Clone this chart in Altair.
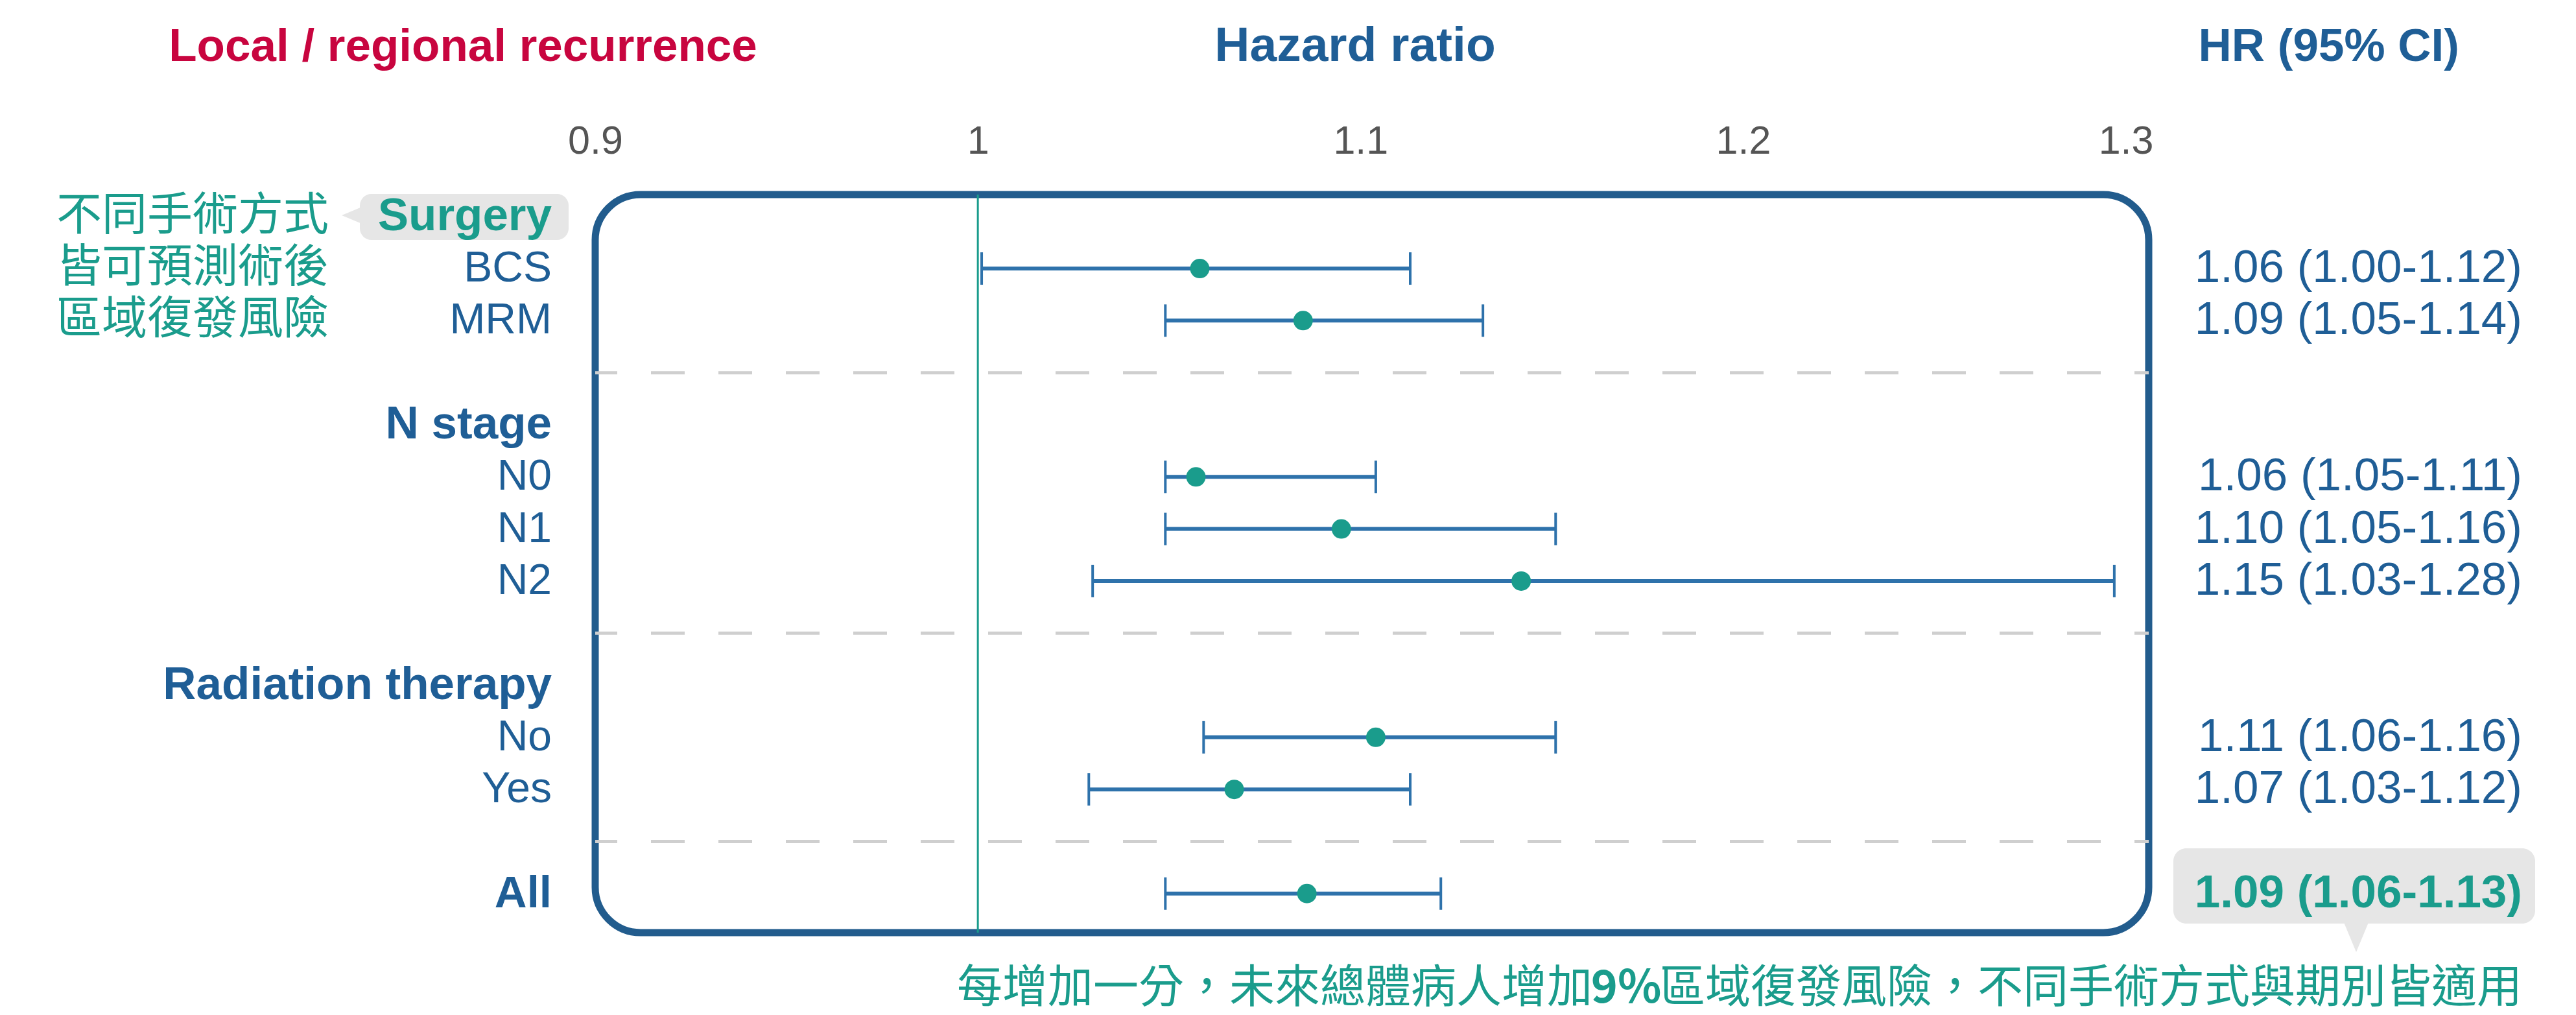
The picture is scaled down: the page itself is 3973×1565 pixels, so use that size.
import altair as alt
import pandas as pd

# ---------------- data ----------------
sub_labels = ["BCS", "MRM", "N0", "N1", "N2", "No", "Yes", "All"]
sub_rows = [1, 2, 5, 6, 7, 10, 11, 13]
hr_point = [1.058, 1.085, 1.057, 1.095, 1.142, 1.104, 1.067, 1.086]
ci_low = [1.001, 1.049, 1.049, 1.049, 1.030, 1.059, 1.029, 1.049]
ci_high = [1.113, 1.132, 1.104, 1.151, 1.297, 1.151, 1.113, 1.121]
hr_text = ["1.06 (1.00-1.12)", "1.09 (1.05-1.14)", "1.06 (1.05-1.11)",
           "1.10 (1.05-1.16)", "1.15 (1.03-1.28)", "1.11 (1.06-1.16)",
           "1.07 (1.03-1.12)", "1.09 (1.06-1.13)"]
group_headers = ["Surgery", "N stage", "Radiation therapy"]
header_rows = [0, 4, 9]
separator_rows = [3, 8, 12]
tick_values = [0.9, 1.0, 1.1, 1.2, 1.3]
note_lines = ["不同手術方式", "皆可預測術後", "區域復發風險"]
note_rows = [0, 1, 2]
footer_parts = ["每增加一分，未來總體病人增加", "9%", "區域復發風險，不同手術方式與期別皆適用"]
titles = ["Local / regional recurrence", "Hazard ratio", "HR (95% CI)"]

# ---------------- styles ----------------
BLUE = "#1f5e96"
BOX = "#225c8d"
BAR = "#2e72ab"
TEAL = "#1a9c8c"
RED = "#c8053f"
GREY = "#e6e6e6"
LATIN = "Liberation Sans"
CJK = "Noto Sans CJK TC"

df = pd.DataFrame({"label": sub_labels, "row": sub_rows, "hr": hr_point,
                   "lo": ci_low, "hi": ci_high, "txt": hr_text})
sub_df = df.iloc[:-1]
all_df = df.iloc[-1:]
hdr_df = pd.DataFrame({"label": group_headers, "row": header_rows})
sep_df = pd.DataFrame({"row": separator_rows})
note_df = pd.DataFrame({"txt": note_lines, "row": note_rows})
one = pd.DataFrame({"v": [1.0]})

xscale = alt.Scale(domain=[0.9, 1.306], nice=False, zero=False)
xaxis = alt.Axis(orient="top", values=tick_values, format="~g", domain=False,
                 ticks=False, tickSize=0, grid=False, labelFontSize=61,
                 labelFont=LATIN, labelColor="#555555", labelPadding=64,
                 labelBaseline="alphabetic", labelFlush=False,
                 labelOverlap=False, title=None)
yscale = alt.Scale(domain=[-0.42, 13.75], reverse=True, nice=False, zero=False)


def Y(field="row"):
    return alt.Y(f"{field}:Q", scale=yscale, axis=None)


def X(field):
    return alt.X(f"{field}:Q", scale=xscale, axis=xaxis)


seps = alt.Chart(sep_df).mark_rule(color="#cfcfcf", strokeWidth=5,
                                   strokeDash=[52, 52], strokeDashOffset=30).encode(y=Y())
ref = alt.Chart(one).mark_rule(color=TEAL, strokeWidth=3).encode(x=X("v"))
bars = alt.Chart(df).mark_rule(color=BAR, strokeWidth=6).encode(
    x=X("lo"), x2="hi:Q", y=Y())
cap_lo = alt.Chart(df).mark_tick(orient="vertical", color=BAR, size=50,
                                 thickness=4, opacity=1).encode(x=X("lo"), y=Y())
cap_hi = alt.Chart(df).mark_tick(orient="vertical", color=BAR, size=50,
                                 thickness=4, opacity=1).encode(x=X("hi"), y=Y())
points = alt.Chart(df).mark_circle(color=TEAL, size=900, opacity=1).encode(
    x=X("hr"), y=Y())

# decorations (speech bubbles)
dummy = pd.DataFrame({"d": [0]})
bubble1 = alt.Chart(dummy).mark_rect(color=GREY, cornerRadius=18).encode(
    x=alt.value(-363), x2=alt.value(-41), y=alt.value(-1), y2=alt.value(70))
arrow1 = alt.Chart(dummy).mark_point(
    shape="M 0 0 L 2.4 -1 L 2.4 1 Z", size=1296, filled=True, color=GREY,
    opacity=1).encode(x=alt.value(-391), y=alt.value(32))
bubble2 = alt.Chart(dummy).mark_rect(color=GREY, cornerRadius=20).encode(
    x=alt.value(2434), x2=alt.value(2992), y=alt.value(1008), y2=alt.value(1124))
arrow2 = alt.Chart(dummy).mark_point(
    shape="M -1 -2.4 L 1 -2.4 L 0 0 Z", size=3136, filled=True, color=GREY,
    opacity=1).encode(x=alt.value(2716), y=alt.value(1168))

# text
sub_lbl = alt.Chart(sub_df).mark_text(align="right", baseline="middle", font=LATIN,
                                      fontSize=66, color=BLUE).encode(
    x=alt.value(-67), y=Y(), text="label:N")
all_lbl = alt.Chart(all_df).mark_text(align="right", baseline="middle", font=LATIN,
                                      fontSize=69, fontWeight="bold", color=BLUE).encode(
    x=alt.value(-67), y=Y(), text="label:N")
hdr_lbl = alt.Chart(hdr_df).mark_text(align="right", baseline="middle", font=LATIN,
                                      fontSize=71, fontWeight="bold").encode(
    x=alt.value(-67), y=Y(), text="label:N",
    color=alt.condition("datum.label == 'Surgery'", alt.value(TEAL), alt.value(BLUE)))
hr_sub = alt.Chart(sub_df).mark_text(align="right", baseline="middle", font=LATIN,
                                     fontSize=71, color=BLUE).encode(
    x=alt.value(2972), y=Y(), text="txt:N")
hr_all = alt.Chart(all_df).mark_text(align="right", baseline="middle", font=LATIN,
                                     fontSize=71, fontWeight="bold", color=TEAL).encode(
    x=alt.value(2972), y=Y(), text="txt:N")
notes = alt.Chart(note_df).mark_text(align="right", baseline="middle", font=CJK,
                                     fontSize=70, color=TEAL).encode(
    x=alt.value(-411), y=Y(), text="txt:N")

title_df = pd.DataFrame({"t": titles})
t1 = alt.Chart(title_df.iloc[[0]]).mark_text(align="center", baseline="alphabetic", font=LATIN,
                                             fontSize=71, fontWeight="bold", color=RED).encode(
    x=alt.value(-204), y=alt.value(-206), text="t:N")
t2 = alt.Chart(title_df.iloc[[1]]).mark_text(align="center", baseline="alphabetic", font=LATIN,
                                             fontSize=75, fontWeight="bold", color=BLUE).encode(
    x=alt.value(1172), y=alt.value(-206), text="t:N")
t3 = alt.Chart(title_df.iloc[[2]]).mark_text(align="right", baseline="alphabetic", font=LATIN,
                                             fontSize=71, fontWeight="bold", color=BLUE).encode(
    x=alt.value(2875), y=alt.value(-206), text="t:N")

foot_df = pd.DataFrame({"t": footer_parts})
FS = 70
GAP = 104
FY = 1225
N3 = 19  # full-width characters in the last footer part
f3 = alt.Chart(foot_df.iloc[[2]]).mark_text(align="right", baseline="middle", font=CJK,
                                            fontSize=FS, color=TEAL).encode(
    x=alt.value(2972), y=alt.value(FY), text="t:N")
f2 = alt.Chart(foot_df.iloc[[1]]).mark_text(align="center", baseline="middle", font=CJK,
                                            fontSize=FS, fontWeight="bold", color=TEAL).encode(
    x=alt.value(2972 - N3 * FS - GAP / 2), y=alt.value(FY), text="t:N")
f1 = alt.Chart(foot_df.iloc[[0]]).mark_text(align="right", baseline="middle", font=CJK,
                                            fontSize=FS, color=TEAL).encode(
    x=alt.value(2972 - N3 * FS - GAP), y=alt.value(FY), text="t:N")

chart = alt.layer(
    seps, ref, bars, cap_lo, cap_hi, points,
    bubble1, arrow1, bubble2, arrow2,
    sub_lbl, all_lbl, hdr_lbl, hr_sub, hr_all, notes,
    t1, t2, t3, f1, f2, f3,
).properties(
    width=2396, height=1138,
    autosize=alt.AutoSizeParams(type="none"),
    padding={"left": 910, "top": 292, "right": 640, "bottom": 125},
).configure_view(
    stroke=BOX, strokeWidth=11, cornerRadius=70, fill="white"
)

chart.save("out.html", embed_options={"renderer": "svg", "actions": False})
